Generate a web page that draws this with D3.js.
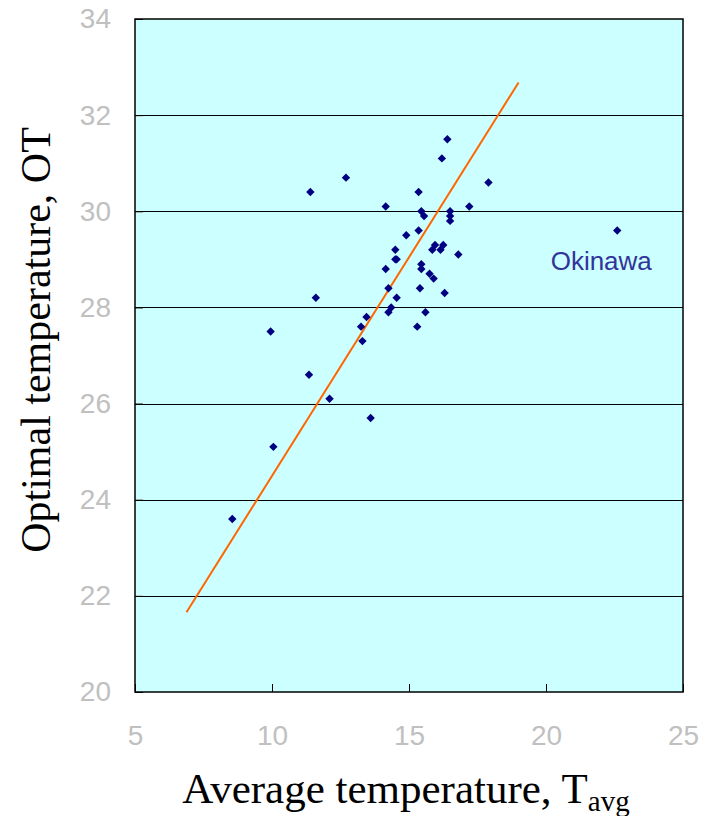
<!DOCTYPE html>
<html>
<head>
<meta charset="utf-8">
<script src="https://cdn.jsdelivr.net/npm/d3@7"></script>
<style>
  body { margin: 0; background: #fff; }
</style>
</head>
<body>
<svg id="chart"></svg>
<script>
// average temperature (x) and optimal temperature (y) per prefecture
const tavg = [16.4, 16.2, 11.4, 12.7, 17.9, 15.35, 14.15, 17.2, 15.45, 15.55,
  16.5, 16.5, 16.5, 15.35, 14.9, 14.5, 15.95, 15.85, 16.25, 16.15,
  16.8, 14.5, 14.55, 14.15, 15.45, 15.45, 15.75, 15.9, 14.25, 15.4,
  16.3, 11.6, 14.55, 14.35, 14.25, 15.6, 13.45, 13.25, 15.3, 13.3,
  9.95, 11.35, 12.1, 13.6, 10.05, 8.55, 22.6];
const optTemp = [31.5, 31.1, 30.4, 30.7, 30.6, 30.4, 30.1, 30.1, 30.0, 29.9,
  30.0, 29.9, 29.8, 29.6, 29.5, 29.2, 29.3, 29.2, 29.3, 29.2,
  29.1, 29.0, 29.0, 28.8, 28.9, 28.8, 28.7, 28.6, 28.4, 28.4,
  28.3, 28.2, 28.2, 28.0, 27.9, 27.9, 27.8, 27.6, 27.6, 27.3,
  27.5, 26.6, 26.1, 25.7, 25.1, 23.6, 29.6];

// regression line end points
const fitX = [6.88, 19.0];
const fitY = [21.66, 32.68];

const xTicks = [5, 10, 15, 20, 25];
const yTicks = [20, 22, 24, 26, 28, 30, 32, 34];

const svgWidth = 709;
const svgHeight = 816;
const margin = { top: 19, right: 26, bottom: 124, left: 135 };
const width = svgWidth - margin.left - margin.right;
const height = svgHeight - margin.top - margin.bottom;

const svg = d3.select('#chart')
  .attr('width', svgWidth)
  .attr('height', svgHeight);

const g = svg.append('g')
  .attr('transform', `translate(${margin.left},${margin.top})`);

const xScale = d3.scaleLinear().domain([5, 25]).range([0, width]);
const yScale = d3.scaleLinear().domain([20, 34]).range([height, 0]);

// plot background
g.append('rect')
  .attr('width', width)
  .attr('height', height)
  .attr('fill', '#ccffff');

// horizontal gridlines
g.selectAll('.grid')
  .data(yTicks.slice(1, -1))
  .enter()
  .append('line')
  .attr('x1', 0)
  .attr('x2', width)
  .attr('y1', (d) => Math.round(yScale(d)) + 0.5)
  .attr('y2', (d) => Math.round(yScale(d)) + 0.5)
  .attr('stroke', '#000')
  .attr('stroke-width', 1);

// axes: ticks inside the plot, grey labels
const xAxis = g.append('g')
  .attr('transform', `translate(0,${height})`)
  .call(d3.axisBottom(xScale).tickValues(xTicks).tickSizeInner(-8).tickSizeOuter(0).tickPadding(33));

const yAxis = g.append('g')
  .call(d3.axisLeft(yScale).tickValues(yTicks).tickSizeInner(-8).tickSizeOuter(0).tickPadding(24));

[xAxis, yAxis].forEach((ax) => {
  ax.select('.domain').remove();
  ax.selectAll('line').attr('stroke', '#000');
  ax.selectAll('text')
    .attr('fill', '#c0c0c0')
    .style('font-family', 'Liberation Sans, Arial, sans-serif')
    .style('font-size', '28px');
});
xAxis.selectAll('text').attr('dy', '0.71em');

// border
g.append('rect')
  .attr('width', width)
  .attr('height', height)
  .attr('fill', 'none')
  .attr('stroke', '#000')
  .attr('stroke-width', 1.5);

// fitted line
g.append('line')
  .attr('x1', xScale(fitX[0]))
  .attr('y1', yScale(fitY[0]))
  .attr('x2', xScale(fitX[1]))
  .attr('y2', yScale(fitY[1]))
  .attr('stroke', '#ff6600')
  .attr('stroke-width', 2);

// diamond markers
const r = 4.2;
g.selectAll('.pt')
  .data(d3.range(tavg.length))
  .enter()
  .append('path')
  .attr('class', 'pt')
  .attr('d', `M0,${-r}L${r},0L0,${r}L${-r},0Z`)
  .attr('transform', (i) => `translate(${xScale(tavg[i])},${yScale(optTemp[i])})`)
  .attr('fill', '#000080');

// Okinawa label
g.append('text')
  .attr('x', xScale(22.6) - 16)
  .attr('y', yScale(29.6) + 39)
  .attr('text-anchor', 'middle')
  .attr('fill', '#333399')
  .style('font-family', 'Liberation Sans, Arial, sans-serif')
  .style('font-size', '26px')
  .text('Okinawa');

// axis titles
const xTitle = svg.append('text')
  .attr('x', 406)
  .attr('y', 803)
  .attr('text-anchor', 'middle')
  .style('font-family', 'Liberation Serif, Times New Roman, serif')
  .style('font-size', '43px')
  .text('Average temperature, T');
xTitle.append('tspan')
  .attr('dy', 8)
  .style('font-size', '29px')
  .text('avg');

svg.append('text')
  .attr('transform', 'translate(50,340) rotate(-90)')
  .attr('text-anchor', 'middle')
  .style('font-family', 'Liberation Serif, Times New Roman, serif')
  .style('font-size', '42px')
  .text('Optimal temperature, OT');
</script>
</body>
</html>
